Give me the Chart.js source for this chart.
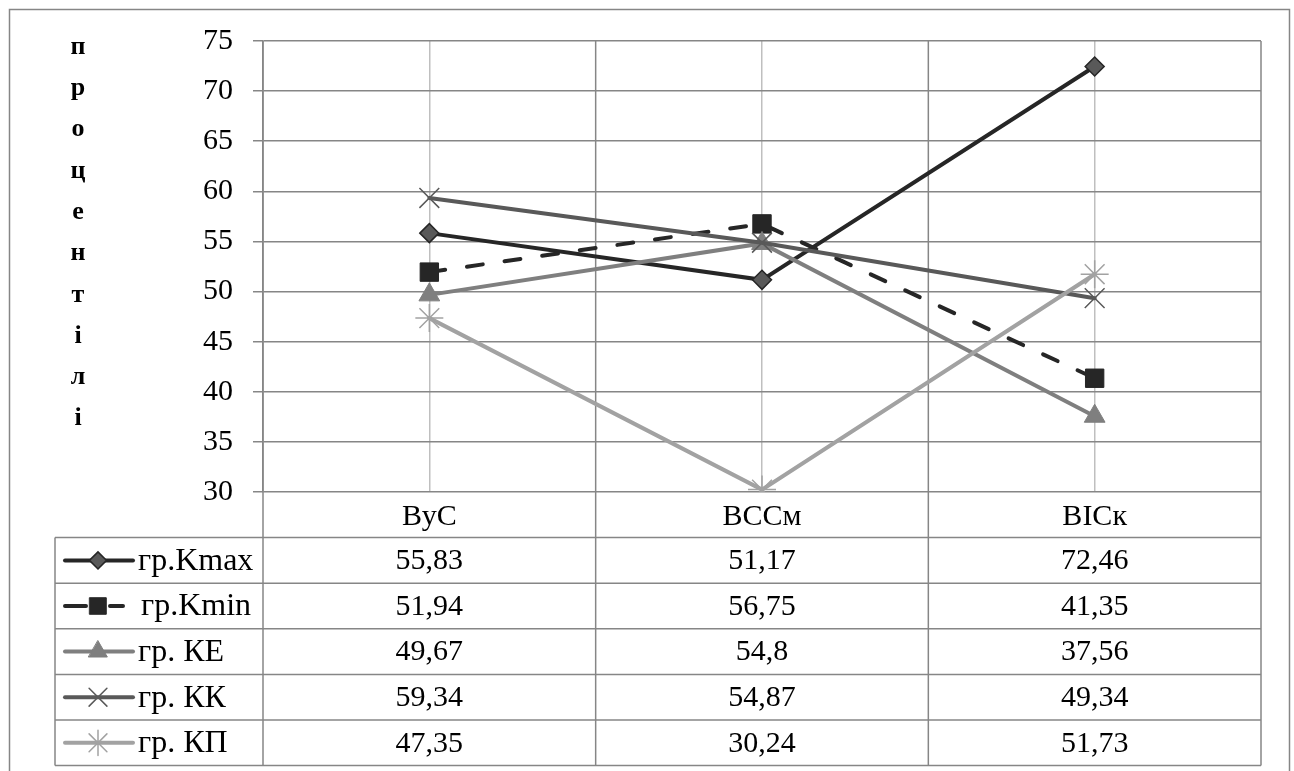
<!DOCTYPE html>
<html>
<head>
<meta charset="utf-8">
<script src="https://cdn.jsdelivr.net/npm/chart.js@4.4.0/dist/chart.umd.min.js"></script>
<style>
html, body { margin: 0; padding: 0; background: #fff; }
#wrap { width: 1294px; height: 771px; }
</style>
</head>
<body>
<div id="wrap"><canvas id="chart" width="1294" height="771"></canvas></div>
<script>
// data
const CATEGORIES = ['ВуС', 'ВССм', 'ВІСк'];
const SERIES_NAMES = ['гр.Kmax', 'гр.Kmin', 'гр. КЕ', 'гр. КК', 'гр. КП'];
const K_MAX = [55.83, 51.17, 72.46];
const K_MIN = [51.94, 56.75, 41.35];
const K_E = [49.67, 54.8, 37.56];
const K_K = [59.34, 54.87, 49.34];
const K_P = [47.35, 30.24, 51.73];
const Y_MIN = 30, Y_MAX = 75, Y_STEP = 5;
const AXIS_TITLE = 'процентілі';

const FONT = '"Liberation Serif", "Times New Roman", serif';
const FONT_SIZE = 30;
const GRID = '#868686';
const ROW_H = 45.6;
const TABLE_LEFT = 55;

//one dataset per series, styles close to the excel defaults of the picture
function make_series(){
    const styles = [
        {line: '#262626', fill: '#595959', edge: '#262626', point: 'rectRot', r: 9.5, bw: 1.5, dash: []},
        {line: '#262626', fill: '#262626', edge: '#262626', point: 'rect', r: 13, bw: 1, dash: [16, 22]},
        {line: '#7f7f7f', fill: '#7f7f7f', edge: '#7f7f7f', point: 'triangle', r: 12, bw: 1, dash: []},
        {line: '#595959', fill: '#595959', edge: '#595959', point: 'crossRot', r: 14, bw: 1.5, dash: []},
        {line: '#a2a2a2', fill: '#a2a2a2', edge: '#a2a2a2', point: 'star', r: 14, bw: 1.5, dash: []}
    ];
    const values = [K_MAX, K_MIN, K_E, K_K, K_P];
    return SERIES_NAMES.map((name, i) => ({
        label: name,
        data: values[i],
        borderColor: styles[i].line,
        borderWidth: 4,
        borderDash: styles[i].dash,
        borderCapStyle: 'round',
        pointStyle: styles[i].point,
        pointRadius: styles[i].r,
        pointBackgroundColor: styles[i].fill,
        pointBorderColor: styles[i].edge,
        pointBorderWidth: styles[i].bw,
        order: SERIES_NAMES.length - i
    }));
}

function fmt(v){
    return String(v).replace('.', ',');
}

//data table under the plot, the outer frame and the letter by letter axis title
const table_plugin = {
    id: 'dataTable',
    beforeDatasetsDraw(chart){
        const ctx = chart.ctx;
        const a = chart.chartArea;
        const x = chart.scales.x;
        const top_rows = a.bottom + ROW_H;
        const bottom = a.bottom + ROW_H * (SERIES_NAMES.length + 1);

        ctx.save();
        ctx.strokeStyle = GRID;
        ctx.lineWidth = 1.5;
        ctx.beginPath();
        //outer frame
        ctx.moveTo(9.5, 775); ctx.lineTo(9.5, 9.5); ctx.lineTo(1289.5, 9.5); ctx.lineTo(1289.5, 775);
        //horizontal table lines
        for (let i = 0; i <= SERIES_NAMES.length; i++){
            let y = top_rows + ROW_H * i;
            ctx.moveTo(TABLE_LEFT, y); ctx.lineTo(a.right, y);
        }
        ctx.moveTo(TABLE_LEFT, top_rows); ctx.lineTo(TABLE_LEFT, bottom);
        ctx.moveTo(a.left, a.top); ctx.lineTo(a.left, bottom);
        ctx.moveTo(a.right, a.top); ctx.lineTo(a.right, bottom);
        //category boundaries
        for (let i = 0; i < CATEGORIES.length - 1; i++){
            let bx = (x.getPixelForValue(i) + x.getPixelForValue(i + 1)) / 2;
            ctx.moveTo(bx, a.top); ctx.lineTo(bx, bottom);
        }
        ctx.stroke();

        //axis title, one letter per line
        ctx.fillStyle = '#000';
        ctx.font = 'bold 26px ' + FONT;
        ctx.textAlign = 'center';
        ctx.textBaseline = 'middle';
        Array.from(AXIS_TITLE).forEach((ch, i) => {
            ctx.fillText(ch, 78, 47 + i * 41.3);
        });

        //rows
        chart.data.datasets.forEach((ds, i) => {
            let cy = top_rows + ROW_H * i + ROW_H / 2;
            //legend key
            ctx.save();
            ctx.strokeStyle = ds.borderColor;
            ctx.lineWidth = 4;
            ctx.lineCap = 'round';
            ctx.beginPath();
            if (ds.borderDash.length){
                ctx.moveTo(65, cy); ctx.lineTo(86, cy);
                ctx.moveTo(110, cy); ctx.lineTo(123, cy);
            } else {
                ctx.moveTo(65, cy); ctx.lineTo(133, cy);
            }
            ctx.stroke();
            if (Chart.helpers && Chart.helpers.drawPoint){
                ctx.fillStyle = ds.pointBackgroundColor;
                ctx.strokeStyle = ds.pointBorderColor;
                ctx.lineWidth = ds.pointBorderWidth;
                Chart.helpers.drawPoint(ctx, {pointStyle: ds.pointStyle, radius: ds.pointRadius * 0.9, rotation: 0, borderWidth: ds.pointBorderWidth}, 98, cy);
            }
            ctx.restore();
            ctx.font = '32px ' + FONT;
            ctx.textAlign = 'left';
            ctx.fillText(ds.label, ds.borderDash.length ? 141 : 138, cy + 1);
            ctx.font = FONT_SIZE + 'px ' + FONT;
            ctx.textAlign = 'center';
            ds.data.forEach((v, j) => {
                ctx.fillText(fmt(v), x.getPixelForValue(j), cy + 1);
            });
        });
        ctx.restore();
    }
};

new Chart(document.getElementById('chart'), {
    type: 'line',
    data: {labels: CATEGORIES, datasets: make_series()},
    options: {
        responsive: false,
        animation: false,
        devicePixelRatio: 1,
        layout: {padding: {top: 41, right: 33, bottom: 771 - 492 - ROW_H, left: 0}},
        plugins: {legend: {display: false}, tooltip: {enabled: false}},
        elements: {line: {tension: 0}},
        scales: {
            x: {
                offset: true,
                grid: {offset: false, color: '#bfbfbf', lineWidth: 1.5, drawTicks: false},
                border: {display: false},
                ticks: {font: {family: FONT, size: FONT_SIZE}, color: '#000', padding: 7, maxRotation: 0},
                afterFit(scale){ scale.height = ROW_H; }
            },
            y: {
                min: Y_MIN,
                max: Y_MAX,
                ticks: {stepSize: Y_STEP, font: {family: FONT, size: FONT_SIZE}, color: '#000', padding: 20},
                grid: {color: GRID, lineWidth: 1.5, tickLength: 10},
                border: {color: GRID, width: 1.5},
                afterFit(scale){ scale.width = 263; }
            }
        }
    },
    plugins: [table_plugin]
});
</script>
</body>
</html>
